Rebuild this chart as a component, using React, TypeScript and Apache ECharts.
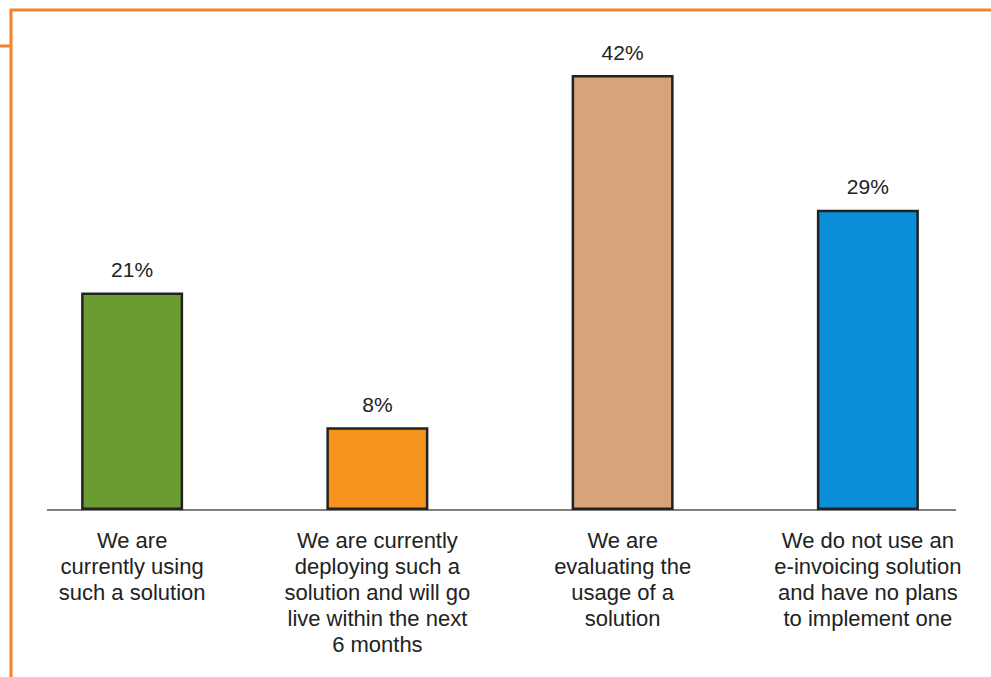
import React, { useEffect, useRef } from "react";
import * as echarts from "echarts";

const categories = [
  "We are\ncurrently using\nsuch a solution",
  "We are currently\ndeploying such a\nsolution and will go\nlive within the next\n6 months",
  "We are\nevaluating the\nusage of a\nsolution",
  "We do not use an\ne-invoicing solution\nand have no plans\nto implement one",
];
const values = [21, 8, 42, 29];
const barColors = ["#6a9c32", "#f7941e", "#d6a478", "#0a8ed8"];

export default function App() {
  const ref = useRef<HTMLDivElement>(null);
  useEffect(() => {
    if (!ref.current) return;
    const chart = echarts.init(ref.current, undefined, { renderer: "svg" });
    const orange = "#f5822a";
    chart.setOption({
      animation: false,
      backgroundColor: "#ffffff",
      textStyle: { fontFamily: "Liberation Sans, Arial, sans-serif" },
      grid: { left: 9.5, right: 0.5, top: 75, bottom: 167, containLabel: false },
      xAxis: {
        type: "category",
        data: categories,
        axisLine: { show: false },
        axisTick: { show: false },
        axisLabel: {
          interval: 0,
          fontSize: 22,
          lineHeight: 26,
          color: "#222222",
          margin: 17,
          fontFamily: "Liberation Sans, Arial, sans-serif",
        },
      },
      yAxis: {
        type: "value",
        min: 0,
        max: 42,
        show: false,
        splitLine: { show: false },
      },
      series: [
        {
          type: "bar",
          barWidth: 102,
          data: values.map((v, i) => ({
            value: v,
            itemStyle: { color: barColors[i] },
          })),
          itemStyle: { borderColor: "#222222", borderWidth: 2.5 },
          label: {
            show: true,
            position: "top",
            distance: 12.5,
            formatter: "{c}%",
            fontSize: 21,
            color: "#222222",
            fontFamily: "Liberation Sans, Arial, sans-serif",
          },
        },
      ],
      graphic: [
        {
          type: "line",
          shape: { x1: 47, y1: 510, x2: 956, y2: 510 },
          style: { stroke: "#555555", lineWidth: 1.5 },
          z: 0,
        },
        {
          type: "line",
          shape: { x1: 11, y1: 9, x2: 11, y2: 677 },
          style: { stroke: orange, lineWidth: 3 },
        },
        {
          type: "line",
          shape: { x1: 10, y1: 10, x2: 991, y2: 10 },
          style: { stroke: orange, lineWidth: 3 },
        },
        {
          type: "line",
          shape: { x1: 0, y1: 46, x2: 11, y2: 46 },
          style: { stroke: orange, lineWidth: 3 },
        },
      ],
    });
    return () => chart.dispose();
  }, []);
  return (
    <div
      ref={ref}
      style={{ position: "fixed", left: 0, top: 0, width: 991, height: 677 }}
    />
  );
}
